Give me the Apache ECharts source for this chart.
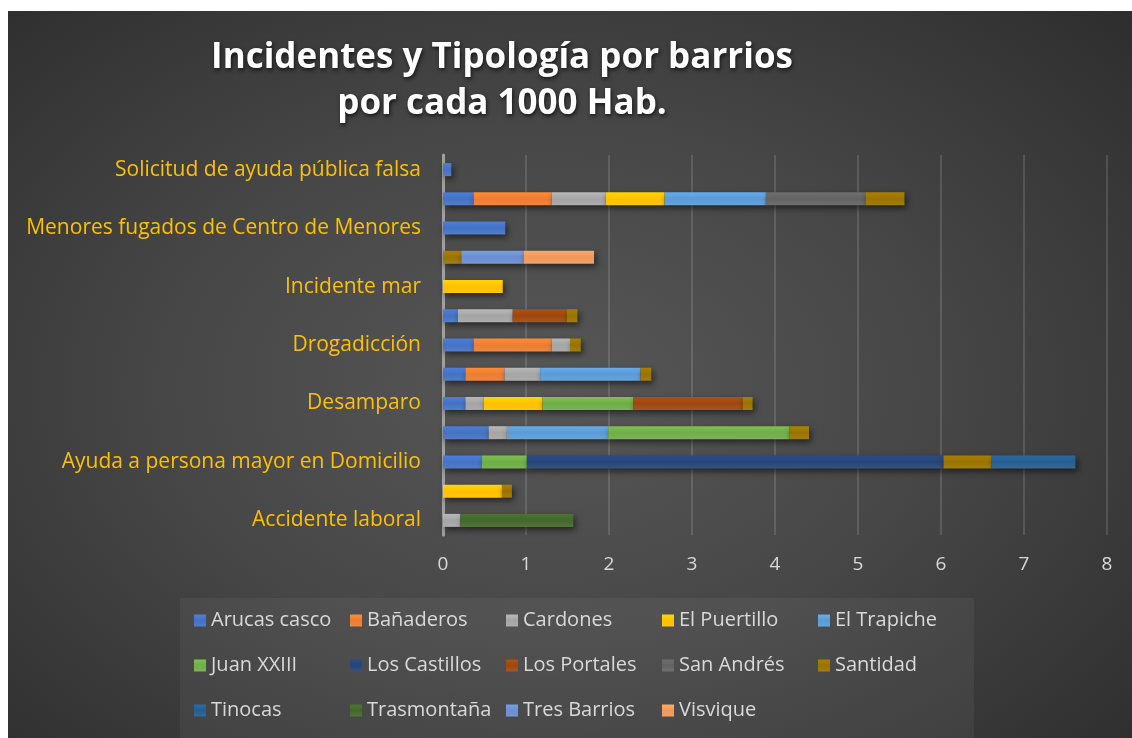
<!DOCTYPE html>
<html>
<head>
<meta charset="utf-8">
<script src="https://cdn.jsdelivr.net/npm/echarts@6/dist/echarts.min.js"></script>
<style>
  html, body { margin: 0; padding: 0; background: #fff; }
  #chart {
    position: absolute; left: 8px; top: 11px; width: 1124px; height: 727px;
    background: radial-gradient(ellipse 75% 80% at 48% 52%, #575757 0%, #474747 45%, #2b2b2b 100%);
  }
</style>
</head>
<body>
<div id="chart"></div>
<script>
// categories, bottom to top (unlabelled rows get plausible names)
const categories = [
  "Accidente laboral", "Accidente tráfico", "Ayuda a persona mayor en Domicilio",
  "Conflicto familiar", "Desamparo", "Desorientación", "Drogadicción", "Incendio",
  "Incidente mar", "Maltrato", "Menores fugados de Centro de Menores", "Reyerta",
  "Solicitud de ayuda pública falsa",
];

const barrios = [
  "Arucas casco", "Bañaderos", "Cardones", "El Puertillo", "El Trapiche",
  "Juan XXIII", "Los Castillos", "Los Portales", "San Andrés", "Santidad",
  "Tinocas", "Trasmontaña", "Tres Barrios", "Visvique",
];

const colors = [
  "#4472C4", "#ED7D31", "#A5A5A5", "#FFC000", "#5B9BD5",
  "#70AD47", "#264478", "#9E480E", "#636363", "#997300",
  "#255E91", "#43682B", "#698ED0", "#F1975A",
];

// values per 1000 inhabitants, one array per barrio, in category order
const arucasCasco  = [0, 0, 0.47, 0.55, 0.27, 0.27, 0.37, 0.18, 0, 0, 0.75, 0.37, 0.1];
const banaderos    = [0, 0, 0, 0, 0, 0.47, 0.94, 0, 0, 0, 0, 0.94, 0];
const cardones     = [0.21, 0, 0, 0.22, 0.22, 0.43, 0.22, 0.66, 0, 0, 0, 0.65, 0];
const elPuertillo  = [0, 0.71, 0, 0, 0.71, 0, 0, 0, 0.72, 0, 0, 0.71, 0];
const elTrapiche   = [0, 0, 0, 1.22, 0, 1.21, 0, 0, 0, 0, 0, 1.22, 0];
const juanXXIII    = [0, 0, 0.54, 2.18, 1.09, 0, 0, 0, 0, 0, 0, 0, 0];
const losCastillos = [0, 0, 5.02, 0, 0, 0, 0, 0, 0, 0, 0, 0, 0];
const losPortales  = [0, 0, 0, 0, 1.32, 0, 0, 0.65, 0, 0, 0, 0, 0];
const sanAndres    = [0, 0, 0, 0, 0, 0, 0, 0, 0, 0, 0, 1.2, 0];
const santidad     = [0, 0.12, 0.58, 0.24, 0.12, 0.13, 0.13, 0.13, 0, 0.22, 0, 0.47, 0];
const tinocas      = [0, 0, 1.01, 0, 0, 0, 0, 0, 0, 0, 0, 0, 0];
const trasmontana  = [1.36, 0, 0, 0, 0, 0, 0, 0, 0, 0, 0, 0, 0];
const tresBarrios  = [0, 0, 0, 0, 0, 0, 0, 0, 0, 0.75, 0, 0, 0];
const visvique     = [0, 0, 0, 0, 0, 0, 0, 0, 0, 0.85, 0, 0, 0];

const seriesData = [
  arucasCasco, banaderos, cardones, elPuertillo, elTrapiche, juanXXIII, losCastillos,
  losPortales, sanAndres, santidad, tinocas, trasmontana, tresBarrios, visvique,
];

const xTicks = [0, 8, 1]; // min, max, interval

const chart = echarts.init(document.getElementById("chart"));

function shade(hex) {
  return new echarts.graphic.LinearGradient(0, 0, 0, 1, [
    { offset: 0, color: echarts.color.lift(hex, -0.12) },
    { offset: 0.5, color: hex },
    { offset: 1, color: echarts.color.lift(hex, 0.08) },
  ]);
}

chart.setOption({
  backgroundColor: "transparent",
  animation: false,
  color: colors,
  graphic: [{
    type: "text",
    x: 494,
    y: 24,
    style: {
      text: "Incidentes y Tipología por barrios\npor cada 1000 Hab.",
      textAlign: "center",
      fill: "#ffffff",
      font: 'bold 35px "Open Sans"',
      lineHeight: 46,
      textShadowColor: "rgba(0,0,0,0.7)",
      textShadowBlur: 4,
      textShadowOffsetX: 1,
      textShadowOffsetY: 2,
    },
  }],
  grid: { left: 435, right: 25, top: 144, bottom: 203, containLabel: false },
  legend: {
    left: 172,
    top: 587,
    width: 790,
    padding: [0, 0, 20, 14],
    backgroundColor: "rgba(255,255,255,0.05)",
    itemWidth: 12,
    itemHeight: 12,
    itemGap: 0,
    icon: "rect",
    textStyle: { color: "#d9d9d9", fontSize: 20, fontFamily: "Open Sans", width: 139, lineHeight: 45 },
    data: barrios,
  },
  xAxis: {
    type: "value",
    min: xTicks[0],
    max: xTicks[1],
    interval: xTicks[2],
    axisLine: { show: false },
    axisTick: { show: false },
    axisLabel: { color: "#d9d9d9", fontSize: 19, fontFamily: "Open Sans", margin: 20 },
    splitLine: { lineStyle: { color: "rgba(255,255,255,0.13)", width: 2 } },
  },
  yAxis: {
    type: "category",
    data: categories,
    axisLine: { show: true, lineStyle: { color: "#a0a0a0", width: 3 } },
    axisTick: { show: false },
    axisLabel: { interval: 1, color: "#ffc000", fontSize: 21, fontFamily: "Open Sans", margin: 22 },
  },
  series: barrios.map((name, i) => ({
    name,
    type: "bar",
    stack: "total",
    barWidth: 13,
    data: seriesData[i],
    itemStyle: {
      color: shade(colors[i]),
      shadowColor: "rgba(0,0,0,0.55)",
      shadowBlur: 6,
      shadowOffsetX: 2,
      shadowOffsetY: 3,
    },
  })),
});
</script>
</body>
</html>
